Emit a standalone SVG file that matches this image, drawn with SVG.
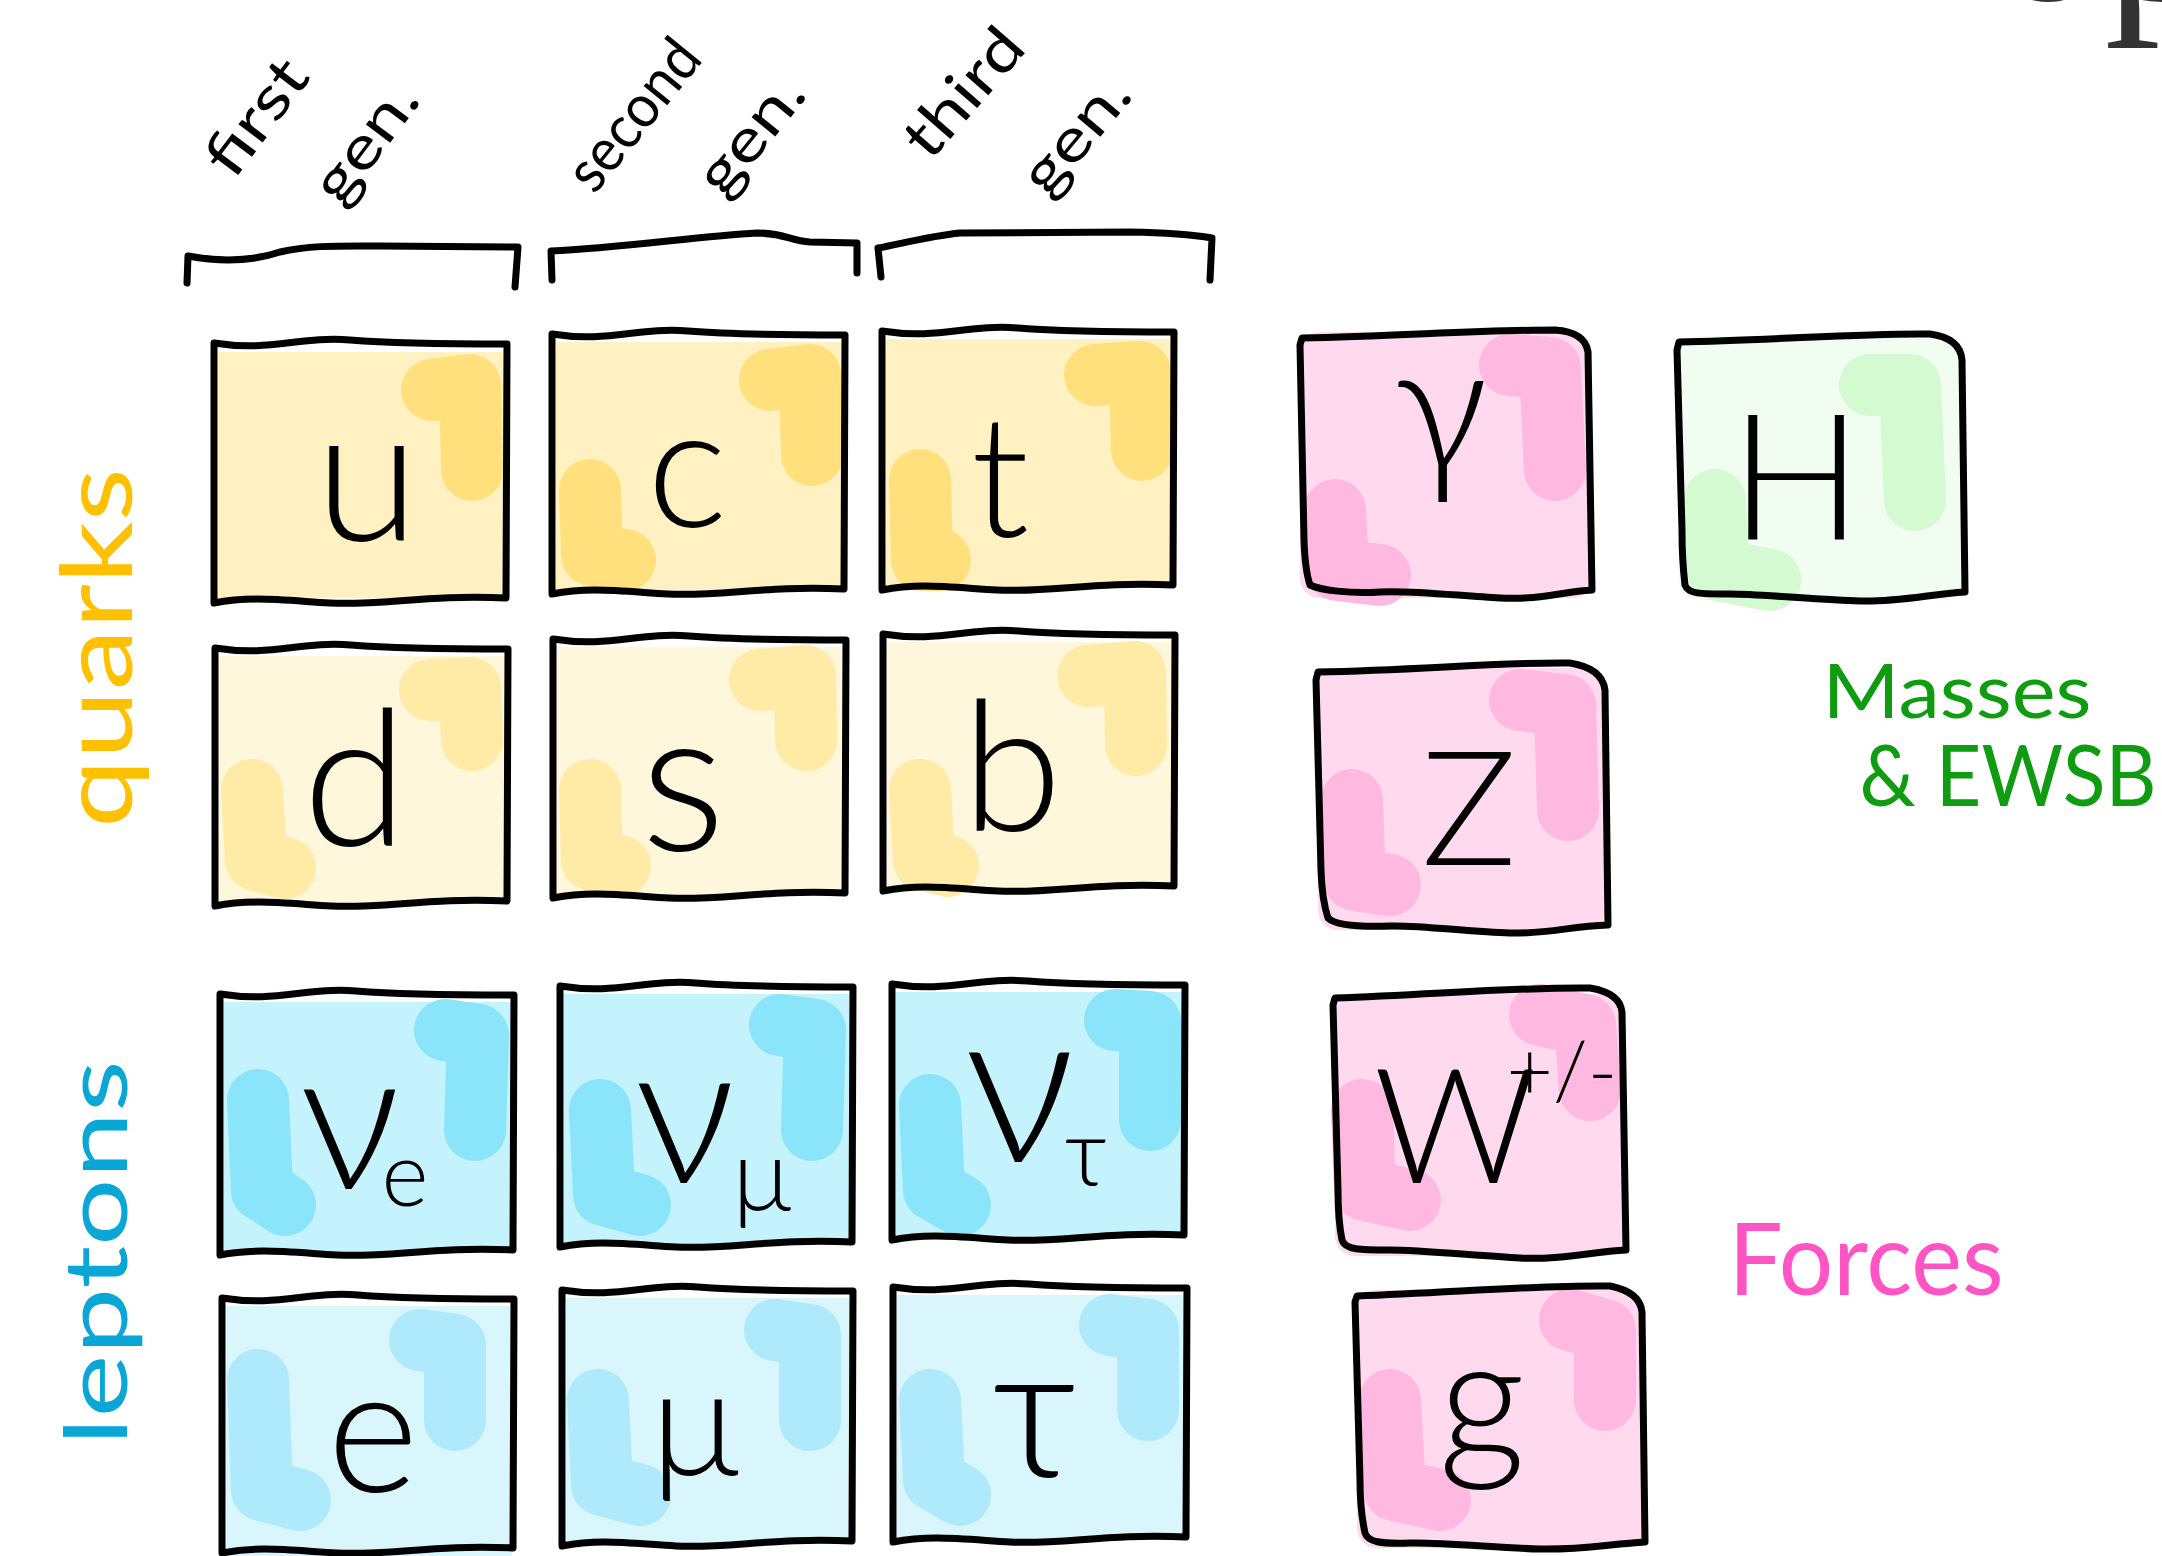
<svg xmlns="http://www.w3.org/2000/svg" width="2162" height="1556" viewBox="0 0 2162 1556">
<style>
.bd{fill:none;stroke:#000;stroke-width:7;stroke-linejoin:round;stroke-linecap:round}
.bl{fill:none;stroke-width:62;stroke-linecap:round;stroke-linejoin:round}
.sym{font-family:Lato,"DejaVu Sans",sans-serif;font-weight:300;fill:#000;text-anchor:middle}
.lab{font-family:Lato,"DejaVu Sans",sans-serif;font-weight:400;text-anchor:middle}
.q1{fill:#FFF1C2}.q1d{stroke:#FFE07C}
.q2{fill:#FFF7DC}.q2d{stroke:#FFEAA6}
.l1{fill:#C4F2FD}.l1d{stroke:#8AE4FA}
.l2{fill:#D9F6FD}.l2d{stroke:#AEEAFB}
.p{fill:#FFDAEE}.pd{stroke:#FFB8E0}
.h{fill:#F0FDF0}.hd{stroke:#D3FAD0}
</style>
<rect width="2162" height="1556" fill="#fff"/>
<text x="1992" y="0" style="font-family:'Liberation Serif',serif;font-size:225px;fill:#333">op</text>

<g id="gen-labels">
<text class="lab" transform="translate(263,122) rotate(-53)" y="12" style="font-size:60px" textLength="130" lengthAdjust="spacingAndGlyphs">first</text>
<text class="lab" transform="translate(372,147) rotate(-53)" y="12" style="font-size:60px" textLength="135" lengthAdjust="spacingAndGlyphs">gen.</text>
<text class="lab" transform="translate(640,120) rotate(-51)" y="12" style="font-size:60px" textLength="175" lengthAdjust="spacingAndGlyphs">second</text>
<text class="lab" transform="translate(757,140) rotate(-51)" y="12" style="font-size:60px" textLength="135" lengthAdjust="spacingAndGlyphs">gen.</text>
<text class="lab" transform="translate(970,98) rotate(-49)" y="12" style="font-size:60px" textLength="150" lengthAdjust="spacingAndGlyphs">third</text>
<text class="lab" transform="translate(1082,140) rotate(-50)" y="12" style="font-size:60px" textLength="135" lengthAdjust="spacingAndGlyphs">gen.</text>
</g>

<g id="brackets" class="bd">
<path d="M187,283 L188,256 C220,262 250,262 280,252 C310,245 340,246 380,246 L518,247 L515,287"/>
<path d="M552,280 L551,251 C620,248 700,236 757,233 C785,233 790,241 810,242 L857,243 L857,273"/>
<path d="M881,277 L878,248 C900,244 930,236 960,233 L1130,232 C1180,233 1200,236 1212,238 L1210,280"/>
</g>

<text class="lab" transform="translate(132,648) rotate(-90)" style="font-size:98px;fill:#FFC000" textLength="360" lengthAdjust="spacingAndGlyphs">quarks</text>
<text class="lab" transform="translate(127,1253) rotate(-90)" style="font-size:88px;fill:#0AA6D6" textLength="385" lengthAdjust="spacingAndGlyphs">leptons</text>
<text class="lab" x="1957" y="718" style="font-size:76px;fill:#109C10" textLength="269" lengthAdjust="spacingAndGlyphs">Masses</text>
<text class="lab" x="2008" y="806" style="font-size:86px;fill:#109C10" textLength="297" lengthAdjust="spacingAndGlyphs">&amp; EWSB</text>
<text class="lab" x="1866" y="1295" style="font-size:100px;fill:#FF55C4" textLength="275" lengthAdjust="spacingAndGlyphs">Forces</text>

<g id="node-u">
<rect class="q1" x="218" y="352" width="287" height="246"/>
<path class="bl q1d" d="M432,390 L470,385 L472,470"/>
<path class="bd" d="M214,343 C270,352 300,336 350,340 S470,344 507,344 L506,598 C430,594 380,606 330,603 S250,596 214,603 Z"/>
<text class="sym" x="367" y="540" style="font-size:190px">u</text>
</g>
<g id="node-c">
<rect class="q1" x="556" y="342" width="287" height="248"/>
<path class="bl q1d" d="M770,380 L810,375 L812,455"/>
<path class="bl q1d" d="M590,490 L592,555 L625,560"/>
<path class="bd" d="M552,334 C608,343 638,327 688,331 S808,335 845,335 L844,589 C768,585 718,597 668,594 S588,587 552,594 Z"/>
<text class="sym" x="687" y="527" style="font-size:170px">c</text>
</g>
<g id="node-t">
<rect class="q1" x="886" y="339" width="286" height="248"/>
<path class="bl q1d" d="M1095,375 L1140,372 L1142,450"/>
<path class="bl q1d" d="M920,480 L922,560 L940,560"/>
<path class="bd" d="M882,331 C938,340 968,324 1018,328 S1137,332 1174,332 L1173,585 C1097,581 1047,593 997,590 S918,583 882,590 Z"/>
<text class="sym" x="1000" y="537" style="font-size:170px">t</text>
</g>
<g id="node-d">
<rect class="q2" x="219" y="656" width="287" height="246"/>
<path class="bl q2d" d="M430,690 L470,688 L472,740"/>
<path class="bl q2d" d="M252,790 L256,860 L285,868"/>
<path class="bd" d="M215,648 C271,657 301,641 351,645 S471,649 508,649 L507,901 C431,897 381,909 331,906 S251,899 215,906 Z"/>
<text class="sym" x="355" y="846" style="font-size:190px">d</text>
</g>
<g id="node-s">
<rect class="q2" x="557" y="647" width="287" height="248"/>
<path class="bl q2d" d="M760,680 L805,676 L806,740"/>
<path class="bl q2d" d="M590,790 L592,860 L620,866"/>
<path class="bd" d="M553,639 C609,648 639,632 689,636 S809,640 846,640 L845,893 C769,889 719,901 669,898 S589,891 553,898 Z"/>
<text class="sym" x="683" y="850" style="font-size:200px">s</text>
</g>
<g id="node-b">
<rect class="q2" x="887" y="642" width="286" height="246"/>
<path class="bl q2d" d="M1088,676 L1135,672 L1136,745"/>
<path class="bl q2d" d="M920,790 L924,860 L948,866"/>
<path class="bd" d="M883,634 C939,643 969,627 1019,631 S1138,635 1175,635 L1174,886 C1098,882 1048,894 998,891 S919,884 883,891 Z"/>
<text class="sym" x="1012" y="831" style="font-size:182px">b</text>
</g>

<g id="node-nue">
<rect class="l1" x="224" y="1002" width="288" height="250"/>
<path class="bl l1d" d="M445,1030 L478,1035 L475,1130"/>
<path class="bl l1d" d="M258,1100 L262,1190 L285,1205"/>
<path class="bd" d="M220,994 C276,1003 306,987 356,991 S477,995 514,995 L513,1250 C437,1246 387,1258 337,1255 S256,1248 220,1255 Z"/>
<text class="sym" x="350" y="1189" style="font-size:200px">ν</text>
<text class="sym" x="405" y="1206" style="font-size:90px">e</text>
</g>
<g id="node-numu">
<rect class="l1" x="564" y="994" width="287" height="250"/>
<path class="bl l1d" d="M780,1025 L815,1030 L812,1130"/>
<path class="bl l1d" d="M600,1110 L604,1195 L640,1205"/>
<path class="bd" d="M560,986 C616,995 646,979 696,983 S816,987 853,987 L852,1242 C776,1238 726,1250 676,1247 S596,1240 560,1247 Z"/>
<text class="sym" x="685" y="1183" style="font-size:200px">ν</text>
<text class="sym" x="762" y="1210" style="font-size:100px">μ</text>
</g>
<g id="node-nutau">
<rect class="l1" x="896" y="992" width="287" height="245"/>
<path class="bl l1d" d="M1115,1020 L1150,1022 L1150,1120"/>
<path class="bl l1d" d="M930,1105 L934,1190 L960,1205"/>
<path class="bd" d="M892,984 C948,993 978,977 1028,981 S1148,985 1185,985 L1184,1235 C1108,1231 1058,1243 1008,1240 S928,1233 892,1240 Z"/>
<text class="sym" x="1020" y="1162" style="font-size:220px">ν</text>
<text class="sym" x="1086" y="1185" style="font-size:95px">τ</text>
</g>
<g id="node-e">
<rect class="l2" x="226" y="1306" width="286" height="250"/>
<path class="bl l2d" d="M420,1340 L455,1345 L455,1420"/>
<path class="bl l2d" d="M258,1380 L262,1490 L300,1500"/>
<path class="bd" d="M222,1298 C278,1307 308,1291 358,1295 S477,1299 514,1299 L513,1548 C437,1544 387,1556 337,1553 S258,1546 222,1553 Z"/>
<text class="sym" x="373" y="1492" style="font-size:175px">e</text>
</g>
<g id="node-mu">
<rect class="l2" x="566" y="1298" width="285" height="245"/>
<path class="bl l2d" d="M775,1330 L810,1335 L810,1420"/>
<path class="bl l2d" d="M598,1400 L602,1485 L640,1495"/>
<path class="bd" d="M562,1290 C618,1299 648,1283 698,1287 S816,1291 853,1291 L852,1541 C776,1537 726,1549 676,1546 S598,1539 562,1546 Z"/>
<text class="sym" x="695" y="1475" style="font-size:150px">μ</text>
</g>
<g id="node-tau">
<rect class="l2" x="897" y="1295" width="288" height="245"/>
<path class="bl l2d" d="M1110,1325 L1148,1330 L1148,1410"/>
<path class="bl l2d" d="M930,1400 L934,1480 L960,1495"/>
<path class="bd" d="M893,1287 C949,1296 979,1280 1029,1284 S1150,1288 1187,1288 L1186,1537 C1110,1533 1060,1545 1010,1542 S929,1535 893,1542 Z"/>
<text class="sym" x="1035" y="1478" style="font-size:190px">τ</text>
</g>

<g id="node-gamma">
<rect class="p" x="1300" y="332" width="292" height="266" rx="20"/>
<path class="bl pd" d="M1510,365 L1550,368 L1555,470"/>
<path class="bl pd" d="M1335,510 L1338,570 L1380,575"/>
<path class="bd" d="M1300,345 L1302,338 C1400,336 1480,330 1555,330 Q1585,332 1588,352 L1592,590 C1560,592 1540,600 1500,598 S1410,590 1380,592 S1320,590 1310,585 Q1305,570 1304,540 Z"/>
<text class="sym" x="1441" y="470" style="font-size:180px">γ</text>
</g>
<g id="node-Z">
<rect class="p" x="1318" y="668" width="288" height="262" rx="20"/>
<path class="bl pd" d="M1520,700 L1565,705 L1568,810"/>
<path class="bl pd" d="M1352,800 L1355,880 L1390,885"/>
<path class="bd" d="M1316,680 L1318,672 C1420,670 1500,662 1570,663 Q1602,668 1605,690 L1608,925 C1570,926 1550,934 1510,933 S1420,925 1390,926 S1335,925 1328,918 Q1322,900 1321,870 Z"/>
<text class="sym" x="1469" y="865" style="font-size:160px">Z</text>
</g>
<g id="node-W">
<rect class="p" x="1335" y="994" width="290" height="262" rx="20"/>
<path class="bl pd" d="M1540,1015 L1585,1025 L1590,1090"/>
<path class="bl pd" d="M1362,1110 L1365,1190 L1410,1200"/>
<path class="bd" d="M1333,1005 L1335,998 C1440,994 1520,987 1590,988 Q1620,993 1622,1012 L1626,1250 C1590,1252 1560,1260 1520,1258 S1420,1250 1390,1250 S1345,1250 1342,1240 Q1338,1220 1338,1190 Z"/>
<text class="sym" x="1455" y="1183" style="font-size:160px">W</text>
<text class="sym" x="1562" y="1100" style="font-size:80px">+/-</text>
</g>
<g id="node-g">
<rect class="p" x="1357" y="1290" width="288" height="258" rx="20"/>
<path class="bl pd" d="M1570,1320 L1605,1330 L1605,1400"/>
<path class="bl pd" d="M1390,1400 L1395,1490 L1440,1500"/>
<path class="bd" d="M1355,1302 L1357,1296 C1460,1292 1540,1285 1610,1286 Q1640,1292 1642,1312 L1645,1542 C1610,1544 1580,1550 1540,1549 S1440,1542 1410,1543 S1368,1542 1365,1533 Q1360,1510 1360,1480 Z"/>
<text class="sym" x="1482" y="1458" style="font-size:170px">g</text>
</g>
<g id="node-H">
<rect class="h" x="1679" y="336" width="286" height="264" rx="20"/>
<path class="bl hd" d="M1870,385 L1910,385 L1915,500"/>
<path class="bl hd" d="M1715,500 L1718,570 L1770,580"/>
<path class="bd" d="M1677,350 L1679,342 C1780,340 1860,333 1930,334 Q1960,338 1962,360 L1965,592 C1930,594 1900,602 1860,601 S1760,594 1730,594 S1688,594 1685,585 Q1682,560 1682,530 Z"/>
<text class="sym" x="1796" y="540" style="font-size:175px">H</text>
</g>
</svg>
